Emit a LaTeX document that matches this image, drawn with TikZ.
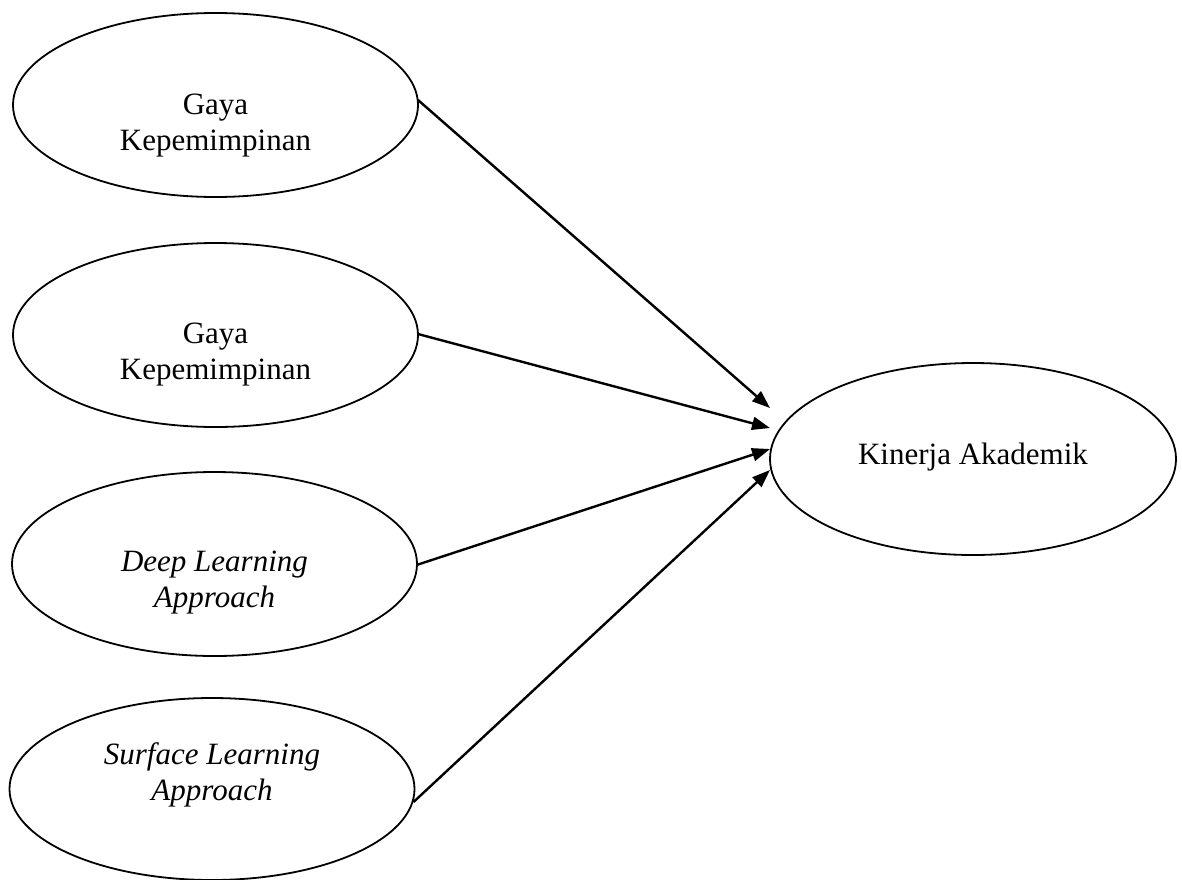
\documentclass[tikz,border=0pt]{standalone}
\usepackage{fontspec}
\setmainfont{Liberation Serif}
\usetikzlibrary{shapes.geometric,arrows.meta}

\begin{document}
\begin{tikzpicture}[x=1pt,y=-1pt,
  construct/.style={draw,ellipse,line width=1.8pt,inner sep=0pt,outer sep=0pt,
    minimum width=405pt,minimum height=184pt},
  caption/.style={align=center,inner sep=0pt,font=\fontsize{31}{36}\selectfont},
  path/.style={line width=2.4pt,-{Triangle[length=18pt,width=13pt]}}
]
\useasboundingbox (0,0) rectangle (1182,879);
\clip (0,0) rectangle (1182,879);

% exogenous constructs
\node[construct] (e1) at (215.5,105) {};
\node[caption] (e1t) at (215.5,126) {Gaya\\Kepemimpinan};

\node[construct] (e2) at (215.5,335) {};
\node[caption] (e2t) at (215.5,355) {Gaya\\Kepemimpinan};

\node[construct] (e3) at (214.5,564) {};
\node[caption] (e3t) at (214.5,583) {\itshape Deep Learning\\\itshape Approach};

\node[construct,minimum height=182pt] (e4) at (212,789) {};
\node[caption] (e4t) at (212,775) {\itshape Surface Learning\\\itshape Approach};

% endogenous construct
\node[construct,minimum width=406pt,minimum height=192pt] (y) at (973,459) {};
\node[caption] (yt) at (973,457) {Kinerja Akademik};

% arrow tips in front of the outcome construct
\coordinate (t1) at (770,408);
\coordinate (t2) at (770,428);
\coordinate (t3) at (770,449);
\coordinate (t4) at (770,470);

\draw[path] ([yshift=5pt]e1.east) -- (t1);
\draw[path] ([yshift=1pt]e2.east) -- (t2);
\draw[path] ([xshift=-0.5pt,yshift=-1pt]e3.east) -- (t3);
\draw[path] ([xshift=-1pt,yshift=-13pt]e4.east) -- (t4);
\end{tikzpicture}
\end{document}
